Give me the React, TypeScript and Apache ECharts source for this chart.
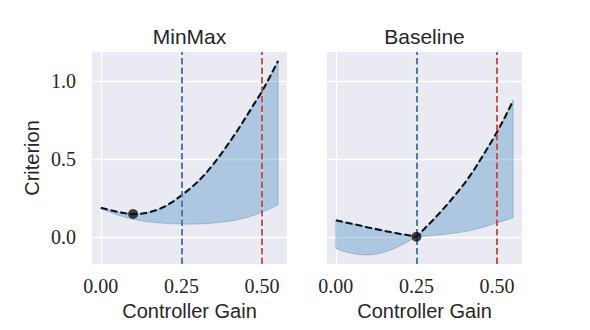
import React, { useEffect, useRef } from "react";
import * as echarts from "echarts";

// Controller gain samples
const gains = [0, 0.025, 0.05, 0.075, 0.1, 0.125, 0.15, 0.175, 0.2, 0.225, 0.25, 0.275, 0.3, 0.325, 0.35, 0.375, 0.4, 0.425, 0.45, 0.475, 0.5, 0.525, 0.55];

// MinMax panel
const minmaxUpper = [0.186, 0.173, 0.161, 0.151, 0.146, 0.148, 0.157, 0.173, 0.196, 0.228, 0.266, 0.306, 0.352, 0.406, 0.468, 0.537, 0.61, 0.687, 0.768, 0.852, 0.933, 1.03, 1.13];
const minmaxLower = [0.178, 0.16, 0.142, 0.125, 0.112, 0.102, 0.095, 0.09, 0.086, 0.083, 0.082, 0.081, 0.082, 0.084, 0.088, 0.093, 0.1, 0.11, 0.122, 0.138, 0.157, 0.18, 0.205];
const minmaxOptimum = [0.1, 0.146];

// Baseline panel
const baselineUpper = [0.106, 0.094, 0.083, 0.072, 0.06, 0.049, 0.038, 0.028, 0.018, 0.01, 0.0, 0.052, 0.105, 0.16, 0.218, 0.28, 0.345, 0.418, 0.5, 0.585, 0.672, 0.77, 0.874];
const baselineLower = [-0.075, -0.095, -0.108, -0.115, -0.117, -0.112, -0.1, -0.082, -0.058, -0.03, 0.0, 0.004, 0.008, 0.013, 0.018, 0.025, 0.033, 0.044, 0.058, 0.073, 0.089, 0.105, 0.121];
const baselineOptimum = [0.25, 0.0];

// Reference vertical lines
const blueLineX = 0.25;
const redLineX = 0.5;

// Ticks
const xTicks = [0, 0.25, 0.5];
const yTicks = [0, 0.5, 1.0];

const titles = ["MinMax", "Baseline"];
const xLabel = "Controller Gain";
const yLabel = "Criterion";

const TEXT = "#262626";
const SERIF = '"Liberation Serif", "DejaVu Serif", serif';
const SANS = '"Liberation Sans", "DejaVu Sans", sans-serif';

function bandSeries(idx: number, upper: number[], lower: number[]) {
  return {
    type: "custom",
    xAxisIndex: idx,
    yAxisIndex: idx,
    z: 1,
    silent: true,
    data: gains.map((g, i) => [g, lower[i], upper[i]]),
    encode: { x: 0, y: [1, 2] },
    renderItem: (params: any, api: any) => {
      if (params.dataIndex !== 0) return null;
      const top = gains.map((g, i) => api.coord([g, upper[i]]));
      const bot = gains.map((g, i) => api.coord([g, lower[i]])).reverse();
      return {
        type: "polygon",
        shape: { points: top.concat(bot) },
        style: {
          fill: "rgba(31,119,180,0.3)",
          stroke: "rgba(31,119,180,0.3)",
          lineWidth: 1,
        },
      };
    },
  };
}

function curveSeries(idx: number, upper: number[]) {
  return {
    type: "line",
    xAxisIndex: idx,
    yAxisIndex: idx,
    z: 3,
    silent: true,
    symbol: "none",
    data: gains.map((g, i) => [g, upper[i]]),
    lineStyle: { color: "#111111", width: 2.1, type: [7, 3] },
  };
}

function refLines(idx: number) {
  return {
    type: "scatter",
    xAxisIndex: idx,
    yAxisIndex: idx,
    z: 4,
    data: [],
    markLine: {
      silent: true,
      symbol: "none",
      label: { show: false },
      animation: false,
      data: [
        { xAxis: blueLineX, lineStyle: { color: "#4C72B0", width: 1.9, type: [6.5, 3] } },
        { xAxis: redLineX, lineStyle: { color: "#C44E52", width: 1.9, type: [6.5, 3] } },
      ],
    },
  };
}

function dotSeries(idx: number, pt: number[]) {
  return {
    type: "scatter",
    xAxisIndex: idx,
    yAxisIndex: idx,
    z: 5,
    silent: true,
    symbol: "circle",
    symbolSize: 10,
    itemStyle: { color: "#111111" },
    data: [pt],
  };
}

export default function App() {
  const ref = useRef<HTMLDivElement>(null);
  useEffect(() => {
    document.body.style.margin = "0";
    const chart = echarts.init(ref.current!, null, { renderer: "svg" });
    const gridLefts = [92, 327];
    const gridW = 195;
    const option: any = {
      animation: false,
      backgroundColor: "#ffffff",
      grid: gridLefts.map((l) => ({
        left: l,
        top: 52,
        width: gridW,
        height: 212,
        show: true,
        backgroundColor: "#EAEAF2",
        borderWidth: 0,
      })),
      xAxis: [0, 1].map((i) => ({
        type: "value",
        gridIndex: i,
        min: -0.0275,
        max: 0.5775,
        axisLine: { show: false },
        axisTick: { show: false, customValues: xTicks },
        splitLine: { show: true, lineStyle: { color: "#ffffff", width: 1.3 } },
        axisLabel: {
          customValues: xTicks,
          formatter: (v: number) => v.toFixed(2),
          fontFamily: SERIF,
          fontSize: 20,
          color: TEXT,
          margin: 12,
        },
        name: xLabel,
        nameLocation: "middle",
        nameGap: 36,
        nameTextStyle: { fontFamily: SANS, fontSize: 20, color: TEXT },
      })),
      yAxis: [0, 1].map((i) => ({
        type: "value",
        gridIndex: i,
        min: -0.175,
        max: 1.187,
        axisLine: { show: false },
        axisTick: { show: false, customValues: yTicks },
        splitLine: { show: true, lineStyle: { color: "#ffffff", width: 1.3 } },
        axisLabel: {
          show: i === 0,
          customValues: yTicks,
          formatter: (v: number) => v.toFixed(1),
          fontFamily: SERIF,
          fontSize: 20,
          color: TEXT,
          margin: 16,
        },
        name: i === 0 ? yLabel : "",
        nameLocation: "middle",
        nameGap: 50,
        nameTextStyle: { fontFamily: SANS, fontSize: 20, color: TEXT },
      })),
      graphic: titles.map((t, i) => ({
        type: "text",
        x: gridLefts[i] + gridW / 2,
        y: 36,
        silent: true,
        style: {
          text: t,
          fill: TEXT,
          font: `21px ${SANS}`,
          align: "center",
          verticalAlign: "middle",
          textAlign: "center",
          textVerticalAlign: "middle",
        },
      })),
      series: [
        bandSeries(0, minmaxUpper, minmaxLower),
        curveSeries(0, minmaxUpper),
        refLines(0),
        dotSeries(0, minmaxOptimum),
        bandSeries(1, baselineUpper, baselineLower),
        curveSeries(1, baselineUpper),
        refLines(1),
        dotSeries(1, baselineOptimum),
      ],
    };
    chart.setOption(option);
    return () => chart.dispose();
  }, []);
  return <div ref={ref} style={{ width: 590, height: 330 }} />;
}
